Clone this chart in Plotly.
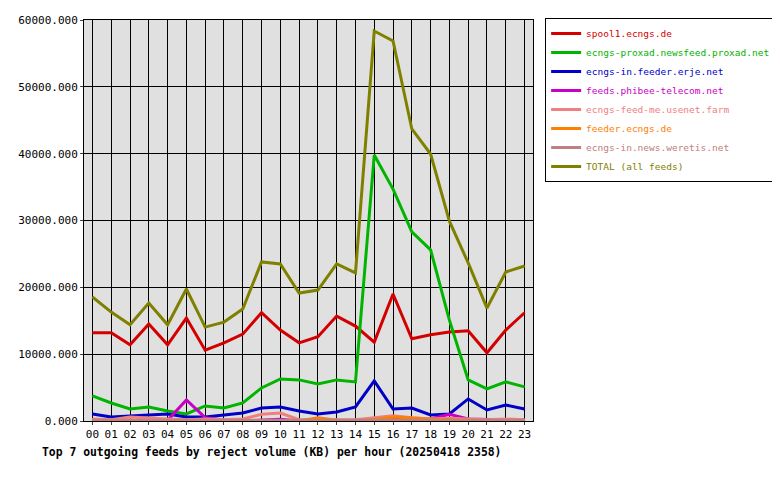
import plotly.graph_objects as go

hours = [f"{h:02d}" for h in range(24)]
names = ["spool1.ecngs.de", "ecngs-proxad.newsfeed.proxad.net", "ecngs-in.feeder.erje.net",
         "feeds.phibee-telecom.net", "ecngs-feed-me.usenet.farm", "feeder.ecngs.de",
         "ecngs-in.news.weretis.net", "TOTAL (all feeds)"]
colors = ["#d40000", "#00b400", "#0000c8", "#c800c8", "#f08080", "#ff8000", "#c08080", "#808000"]
spool1 = [13200,13200,11400,14500,11400,15400,10600,11700,13000,16200,13600,11700,12600,15700,14200,11800,19000,12300,12900,13300,13500,10200,13600,16200]
proxad = [3750,2700,1800,2100,1500,1050,2250,1950,2700,4950,6300,6150,5550,6150,5850,39800,34700,28300,25600,15100,6150,4800,5850,5100]
erje = [1050,600,750,900,1050,600,600,900,1200,1950,2100,1500,1050,1350,2100,6000,1800,1950,900,1050,3300,1650,2400,1800]
phibee = [100,50,0,50,100,3150,500,150,0,100,250,0,0,0,0,100,300,200,300,1000,300,200,200,100]
usenetfarm = [300,200,600,400,300,200,300,200,300,1000,1200,200,200,100,200,500,800,500,300,400,300,200,300,200]
feeder = [0,0,0,0,0,0,0,0,0,0,0,0,500,100,0,200,600,400,300,200,100,0,0,0]
weretis = [100,100,100,100,100,100,100,100,100,100,100,100,100,100,100,100,100,100,100,100,100,100,100,100]
total = [18550,16300,14400,17650,14400,19750,14050,14800,16750,23800,23500,19150,19600,23500,22150,58350,56850,43700,39950,29900,23650,16900,22300,23200]
series = [spool1, proxad, erje, phibee, usenetfarm, feeder, weretis, total]

fig = go.Figure()
xs = list(range(24))
for n, c, s in zip(names, colors, series):
    fig.add_trace(go.Scatter(x=xs, y=s, name=f"<span style='color:{c}'>{n}</span>",
                             mode="lines+markers",
                             line=dict(color=c, width=3),
                             marker=dict(size=1, color=c, symbol="square")))

font = "DejaVu Sans Mono"
fig.update_layout(
    width=780, height=480, margin=dict(l=76, r=255, t=12, b=67, autoexpand=False),
    paper_bgcolor="white", plot_bgcolor="#e0e0e0",
    font=dict(family=font, size=11, color="black"),
    showlegend=True,
    legend=dict(x=1.027, y=1.005, xanchor="left", yanchor="top", bordercolor="black", borderwidth=1,
                bgcolor="white", font=dict(family=font, size=9.5), tracegroupgap=0, itemwidth=30),
    xaxis=dict(range=[-0.45, 23.45], tickvals=xs, ticktext=hours, showgrid=True, gridcolor="black",
               gridwidth=1, showline=True, linecolor="black", mirror=True, zeroline=False,
               ticks="outside", ticklen=3, tickfont=dict(family=font, size=11)),
    yaxis=dict(range=[0, 60000], tickvals=[0,10000,20000,30000,40000,50000,60000],
               ticktext=["0.000","10000.000","20000.000","30000.000","40000.000","50000.000","60000.000"],
               showgrid=True, gridcolor="black", gridwidth=1, showline=True, linecolor="black",
               mirror=True, zeroline=False, ticks="outside", ticklen=3, tickfont=dict(family=font, size=11)),
    annotations=[dict(text="<b>Top 7 outgoing feeds by reject volume (KB) per hour (20250418 2358)</b>",
                      xref="paper", yref="paper", x=-0.098, y=-0.055, xanchor="left", yanchor="top",
                      showarrow=False, font=dict(family=font, size=11.4))]
)
fig.write_html("out.html")
